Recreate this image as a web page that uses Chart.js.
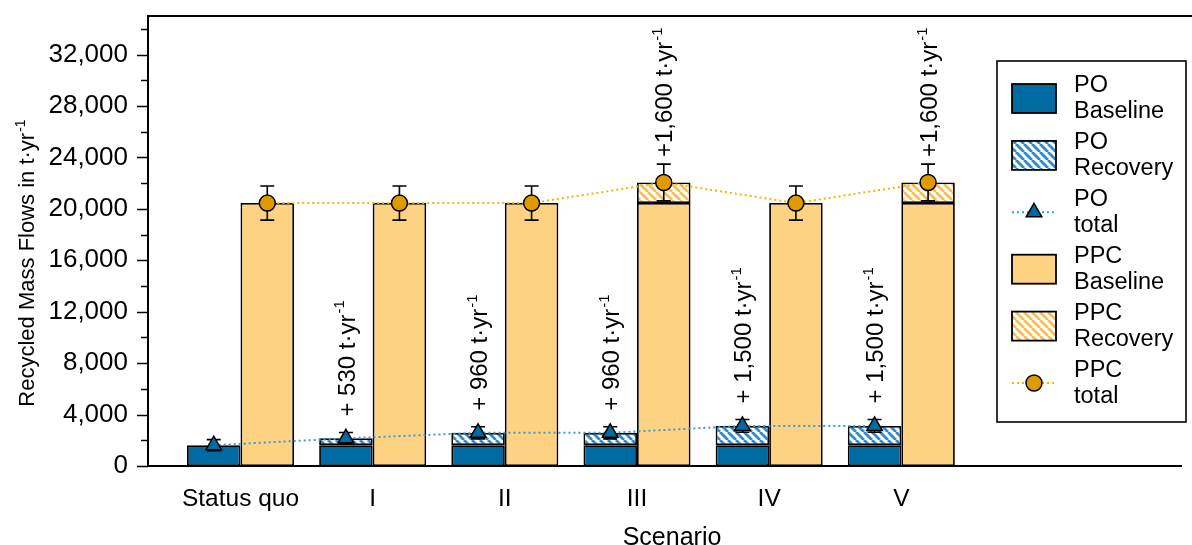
<!DOCTYPE html>
<html>
<head>
<meta charset="utf-8">
<script src="https://cdn.jsdelivr.net/npm/chart.js@4.4.1/dist/chart.umd.min.js"></script>
<style>
  html, body { margin: 0; padding: 0; background: #fff; }
  #wrap { width: 1192px; height: 545px; }
</style>
</head>
<body>
<div id="wrap"><canvas id="chart" width="1192" height="545"></canvas></div>
<script>
// ── Data ──────────────────────────────────────────────────────────────────
const SCENARIOS = ['Status quo', 'I', 'II', 'III', 'IV', 'V'];

const PO_BASELINE = [1620, 1620, 1620, 1620, 1620, 1620];
const PO_RECOVERY = [0, 530, 960, 960, 1500, 1500];
const PO_TOTAL    = [1620, 2150, 2580, 2580, 3120, 3120];
const PO_ERROR    = [430, 450, 470, 470, 500, 500];

const PPC_BASELINE = [20450, 20450, 20450, 20450, 20450, 20450];
const PPC_RECOVERY = [0, 0, 0, 1600, 0, 1600];
const PPC_TOTAL    = [20450, 20450, 20450, 22050, 20450, 22050];
const PPC_ERROR    = [1330, 1330, 1330, 1430, 1330, 1430];

const PO_NOTES  = ['', '+ 530', '+ 960', '+ 960', '+ 1,500', '+ 1,500'];
const PPC_NOTES = ['', '', '', '+1,600', '', '+1,600'];

const Y_TICKS = [0, 4000, 8000, 12000, 16000, 20000, 24000, 28000, 32000];
const Y_MINOR_TICKS = [2000, 6000, 10000, 14000, 18000, 22000, 26000, 30000, 34000];
const Y_MAX = 35000;

// ── Styles ────────────────────────────────────────────────────────────────
const FONT = "'Liberation Sans', Arial, sans-serif";
const PO_BLUE = '#006ba2';
const PO_STRIPE = '#2f8cc8';
const PO_LINE = '#3d9ad6';
const PPC_LIGHT = '#fdd283';
const PPC_STRIPE = '#fbbd4e';
const PPC_MARK = '#e09a00';
const PPC_LINE = '#f6b400';
const BAR_SHIFT = 0.2025;   // half a bar, in category units

const canvas = document.getElementById('chart');
const mainCtx = canvas.getContext('2d');

// Diagonal white/colour stripes for the "Recovery" bars.
const makeHatch = (stripe) => {
    const s = 8;
    const c = document.createElement('canvas');
    c.width = s; c.height = s;
    const g = c.getContext('2d');
    g.fillStyle = '#fff';
    g.fillRect(0, 0, s, s);
    g.strokeStyle = stripe;
    g.lineWidth = 2.8;
    g.beginPath();
    for (const k of [-1, 0, 1]) { g.moveTo(k * s, 0); g.lineTo(k * s + s, s); }
    g.stroke();
    return mainCtx.createPattern(c, 'repeat');
};
const PO_HATCH = makeHatch(PO_STRIPE);
const PPC_HATCH = makeHatch(PPC_STRIPE);

const barPoints = (arr) => arr.map((v, i) => ({ x: i, y: v || null }));
const linePoints = (arr, shift) => arr.map((v, i) => ({ x: i + shift, y: v }));

// text + superscript "-1", drawn at current origin (caps centred on y=0)
const drawUnit = (ctx, text, x, size) => {
    ctx.font = `${size}px ${FONT}`;
    ctx.textBaseline = 'alphabetic';
    ctx.textAlign = 'left';
    const cap = size * 0.36;
    ctx.fillText(text, x, cap);
    const w = ctx.measureText(text).width;
    ctx.font = `${Math.round(size * 0.62)}px ${FONT}`;
    ctx.fillText('-1', x + w + 1, cap - size * 0.42);
    return w + 1 + ctx.measureText('-1').width;
};
const unitWidth = (ctx, text, size) => {
    ctx.font = `${size}px ${FONT}`;
    const w = ctx.measureText(text).width;
    ctx.font = `${Math.round(size * 0.62)}px ${FONT}`;
    return w + 1 + ctx.measureText('-1').width;
};

// ── Plugin: frame, ticks, error bars, notes, titles, legend ──────────────
const decor = {
    id: 'decor',
    beforeDatasetDraw(chart, args) {
        const ds = chart.data.datasets[args.index];
        if (!ds.errors) return;
        const { ctx, scales: { x, y } } = chart;
        ctx.save();
        ctx.strokeStyle = '#000';
        ctx.lineWidth = 1.6;
        ds.data.forEach((p, i) => {
            const px = x.getPixelForValue(p.x);
            const top = y.getPixelForValue(p.y + ds.errors[i]);
            const bot = y.getPixelForValue(p.y - ds.errors[i]);
            ctx.beginPath();
            ctx.moveTo(px, top); ctx.lineTo(px, bot);
            ctx.moveTo(px - 7, top); ctx.lineTo(px + 7, top);
            ctx.moveTo(px - 7, bot); ctx.lineTo(px + 7, bot);
            ctx.stroke();
        });
        ctx.restore();
    },
    afterDraw(chart) {
        const { ctx, chartArea: a, scales: { x, y } } = chart;
        ctx.save();
        ctx.fillStyle = '#000';
        ctx.strokeStyle = '#000';

        // top frame line
        ctx.lineWidth = 2;
        ctx.beginPath();
        ctx.moveTo(a.left - 1, a.top); ctx.lineTo(chart.width, a.top);
        ctx.stroke();

        // y tick marks, major longer than minor
        ctx.lineWidth = 1.5;
        const tick = (v, len) => {
            const py = Math.round(y.getPixelForValue(v)) + 0.5;
            ctx.beginPath();
            ctx.moveTo(a.left - len, py); ctx.lineTo(a.left, py);
            ctx.stroke();
        };
        Y_TICKS.forEach((v) => tick(v, 11));
        Y_MINOR_TICKS.forEach((v) => tick(v, 7));

        // rotated annotations
        const note = (label, xv, yv, gap) => {
            if (!label) return;
            ctx.save();
            ctx.translate(x.getPixelForValue(xv), y.getPixelForValue(yv) - gap);
            ctx.rotate(-Math.PI / 2);
            drawUnit(ctx, label + ' t·yr', 0, 24);
            ctx.restore();
        };
        PO_NOTES.forEach((n, i) => note(n, i - BAR_SHIFT, PO_TOTAL[i] + PO_ERROR[i], 16));
        PPC_NOTES.forEach((n, i) => note(n, i + BAR_SHIFT, PPC_TOTAL[i] + PPC_ERROR[i], 7));

        // y axis title
        ctx.save();
        const yt = 'Recycled Mass Flows in t·yr';
        const tw = unitWidth(ctx, yt, 22);
        ctx.translate(26, 263 + tw / 2);
        ctx.rotate(-Math.PI / 2);
        drawUnit(ctx, yt, 0, 22);
        ctx.restore();

        // x axis title
        ctx.font = `25px ${FONT}`;
        ctx.textAlign = 'center';
        ctx.textBaseline = 'alphabetic';
        ctx.fillText('Scenario', 672, 545);

        // legend
        const L = { left: 997, top: 61, w: 189, h: 361 };
        ctx.fillStyle = '#fff';
        ctx.fillRect(L.left, L.top, L.w, L.h);
        ctx.lineWidth = 1.6;
        ctx.strokeRect(L.left, L.top, L.w, L.h);
        const rowH = 56.9;
        chart.data.datasets.forEach((ds) => {
            const cy = 98.5 + rowH * ds.legendRow;
            if (ds.type === 'line') {
                ctx.save();
                ctx.strokeStyle = ds.borderColor;
                ctx.lineWidth = 2;
                ctx.setLineDash([2, 3]);
                ctx.beginPath();
                ctx.moveTo(1012, cy); ctx.lineTo(1056, cy);
                ctx.stroke();
                ctx.restore();
                ctx.save();
                ctx.lineWidth = 1.5;
                ctx.fillStyle = ds.pointBackgroundColor;
                ctx.strokeStyle = '#000';
                Chart.helpers.drawPoint(ctx, {
                    pointStyle: ds.pointStyle, radius: ds.pointRadius, borderWidth: 1.5, rotation: 0,
                }, 1034, cy);
                ctx.restore();
            } else {
                ctx.fillStyle = ds.backgroundColor;
                ctx.fillRect(1012, cy - 14.5, 44, 29);
                ctx.lineWidth = 1.8;
                ctx.strokeStyle = '#000';
                ctx.strokeRect(1012, cy - 14.5, 44, 29);
            }
            ctx.fillStyle = '#000';
            ctx.font = `23.5px ${FONT}`;
            ctx.textAlign = 'left';
            ctx.textBaseline = 'alphabetic';
            const [l1, l2] = ds.label.split(' ');
            ctx.fillText(l1, 1074, cy - 6.5);
            ctx.fillText(l2, 1074, cy + 19.5);
        });
        ctx.restore();
    },
};

// ── Chart ─────────────────────────────────────────────────────────────────
const barBase = {
    type: 'bar',
    borderColor: '#000',
    borderWidth: 1.8,
    borderSkipped: false,
    categoryPercentage: 0.81,
    barPercentage: 1,
    order: 1,
};
const lineBase = {
    type: 'line',
    borderWidth: 2,
    borderDash: [2, 3],
    tension: 0,
    pointRadius: 8,
    pointBorderColor: '#000',
    pointBorderWidth: 1.5,
    order: 0,
};

new Chart(canvas, {
    type: 'bar',
    data: {
        datasets: [
            { ...barBase, label: 'PO Baseline', stack: 'po', legendRow: 0,
              data: barPoints(PO_BASELINE), backgroundColor: PO_BLUE },
            { ...barBase, label: 'PO Recovery', stack: 'po', legendRow: 1,
              data: barPoints(PO_RECOVERY), backgroundColor: PO_HATCH },
            { ...barBase, label: 'PPC Baseline', stack: 'ppc', legendRow: 3,
              data: barPoints(PPC_BASELINE), backgroundColor: PPC_LIGHT },
            { ...barBase, label: 'PPC Recovery', stack: 'ppc', legendRow: 4,
              data: barPoints(PPC_RECOVERY), backgroundColor: PPC_HATCH },
            { ...lineBase, label: 'PO total', legendRow: 2, errors: PO_ERROR,
              data: linePoints(PO_TOTAL, -BAR_SHIFT), borderColor: PO_LINE,
              pointStyle: 'triangle', pointRadius: 9, pointBackgroundColor: PO_BLUE },
            { ...lineBase, label: 'PPC total', legendRow: 5, errors: PPC_ERROR,
              data: linePoints(PPC_TOTAL, BAR_SHIFT), borderColor: PPC_LINE,
              pointStyle: 'circle', pointBackgroundColor: PPC_MARK },
        ],
    },
    options: {
        responsive: false,
        animation: false,
        layout: { padding: { top: 16, right: 0, left: 0, bottom: 0 } },
        plugins: { legend: { display: false }, tooltip: { enabled: false } },
        scales: {
            x: {
                type: 'linear',
                offset: false,
                min: -0.7,
                max: 7.12,
                grid: { display: false },
                border: { display: true, color: '#000', width: 2 },
                ticks: {
                    stepSize: 1,
                    includeBounds: false,
                    autoSkip: false,
                    maxRotation: 0,
                    padding: 11,
                    color: '#000',
                    font: { family: FONT, size: 24.5 },
                    callback: (v) => SCENARIOS[v] ?? '',
                },
                afterFit: (s) => { s.height = 79; s.paddingLeft = 0; s.paddingRight = 0; },
            },
            y: {
                min: 0,
                max: Y_MAX,
                grid: { display: false },
                border: { display: true, color: '#000', width: 2 },
                afterBuildTicks: (s) => { s.ticks = Y_TICKS.map((v) => ({ value: v })); },
                ticks: {
                    autoSkip: false,
                    padding: 12,
                    color: '#000',
                    font: { family: FONT, size: 26 },
                    callback: (v) => v.toLocaleString('en-US'),
                },
                afterFit: (s) => { s.width = 148; s.paddingTop = 0; s.paddingBottom = 0; },
            },
        },
    },
    plugins: [decor],
});
</script>
</body>
</html>
